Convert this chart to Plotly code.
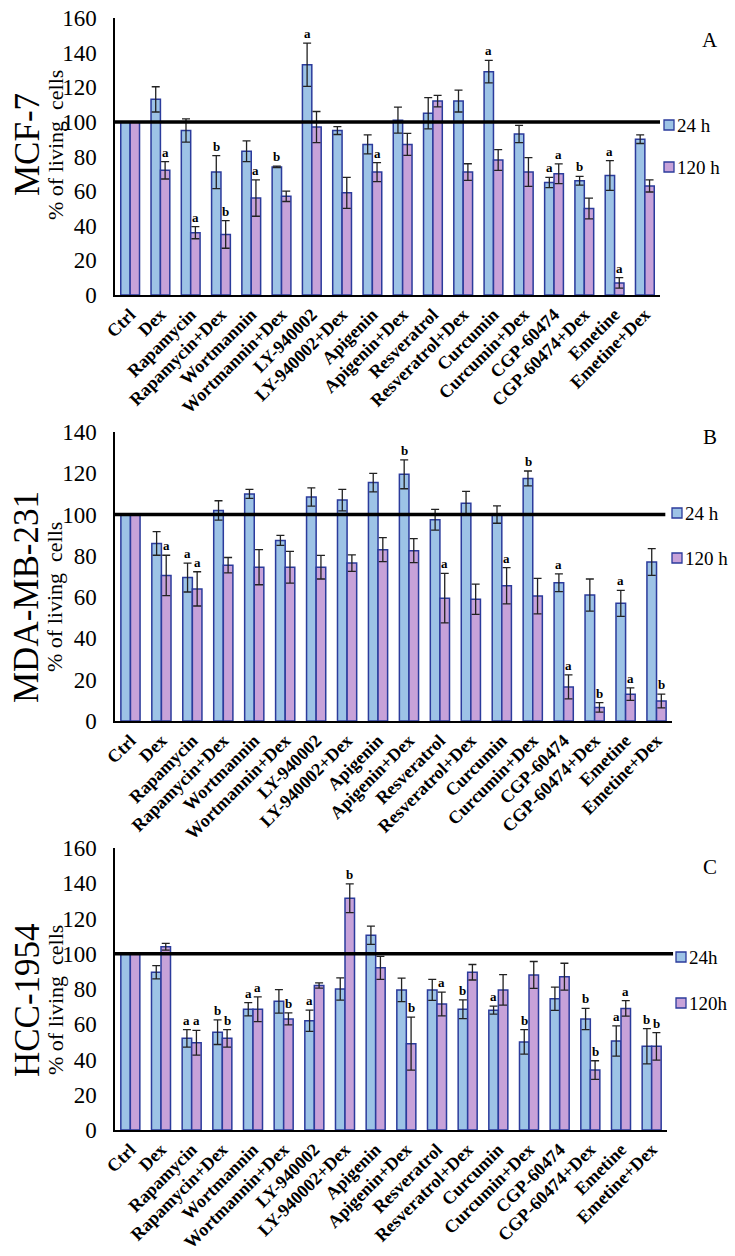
import plotly.graph_objects as go
from plotly.subplots import make_subplots

categories = ["Ctrl", "Dex", "Rapamycin", "Rapamycin+Dex", "Wortmannin", "Wortmannin+Dex",
              "LY-940002", "LY-940002+Dex", "Apigenin", "Apigenin+Dex", "Resveratrol",
              "Resveratrol+Dex", "Curcumin", "Curcumin+Dex", "CGP-60474", "CGP-60474+Dex",
              "Emetine", "Emetine+Dex"]

# Panel A: MCF-7
mcf7_24h = [100, 113, 95, 71, 83, 74, 133, 95, 87, 101, 105, 112, 129, 93, 65, 66, 69, 90]
mcf7_24h_err = [0, 7.3, 6.7, 9.5, 6, 0.4, 12.5, 2.3, 5.5, 7.5, 9, 6.3, 6.5, 5, 3, 2.5, 8.6, 2.5]
mcf7_120h = [100, 72, 36, 35, 56, 57, 97, 59, 71, 87, 112, 71, 78, 71, 70, 50, 7, 63]
mcf7_120h_err = [0, 5, 3.5, 8, 10.5, 3, 9, 9, 5.5, 6.3, 3.3, 4.8, 6, 8.3, 5.7, 6, 3, 3.5]
mcf7_sig24 = ["", "", "", "b", "", "b", "a", "", "", "", "", "", "a", "", "a", "b", "a", ""]
mcf7_sig120 = ["", "a", "a", "b", "a", "", "", "", "a", "", "", "", "", "", "a", "", "a", ""]

# Panel B: MDA-MB-231
mda_24h = [100, 86, 69.5, 102, 110, 87.5, 108.5, 107, 115.5, 119.5, 97.5, 105.5, 100, 117.5, 67, 61, 57, 77]
mda_24h_err = [0, 5.7, 7, 4.7, 2.2, 2.4, 4.4, 5.2, 4.5, 7, 5, 5.7, 4.2, 3.6, 4.3, 7.8, 6.3, 6.5]
mda_120h = [100, 70.5, 64, 75.5, 74.5, 74.5, 74.5, 76.5, 83, 82.5, 59.5, 59, 65.5, 60.5, 16.5, 6.6, 13, 9.7]
mda_120h_err = [0, 9.8, 8.3, 3.7, 8.5, 7.7, 5.7, 4, 5.8, 5.8, 12, 7.3, 8.8, 8.6, 5.8, 2.3, 3, 3.3]
mda_sig24 = ["", "", "a", "", "", "", "", "", "", "b", "", "", "", "b", "a", "", "a", ""]
mda_sig120 = ["", "a", "a", "", "", "", "", "", "", "", "a", "", "a", "", "a", "b", "a", "b"]

# Panel C: HCC-1954
hcc_24h = [100, 89.5, 52, 55.5, 68.5, 73, 62, 80, 110.5, 79.5, 79.5, 68.5, 68, 50, 74.5, 63, 50.5, 47.5]
hcc_24h_err = [0, 3.8, 5, 7, 3.8, 6.7, 6, 6.3, 5.2, 6.7, 6, 5.3, 2.3, 7, 6.6, 6, 8.6, 10]
hcc_120h = [100, 104, 49.5, 52, 68.5, 63, 82, 131.5, 92, 49, 71.5, 89.5, 79.5, 88, 87, 34, 69, 47.5]
hcc_120h_err = [0, 1.9, 7, 5, 7, 3.4, 1.5, 8.2, 6.5, 15, 6.7, 4.4, 8.6, 7.6, 7.6, 5.3, 4.4, 7.8]
hcc_sig24 = ["", "", "a", "b", "a", "", "a", "", "", "", "", "b", "a", "b", "", "b", "a", "b"]
hcc_sig120 = ["", "", "a", "b", "a", "b", "", "b", "", "b", "a", "", "", "", "", "b", "a", "b"]

panels = [
    dict(name="MCF-7", letter="A", v24=mcf7_24h, e24=mcf7_24h_err, v120=mcf7_120h, e120=mcf7_120h_err,
         s24=mcf7_sig24, s120=mcf7_sig120, ymax=160, lab24="24 h", lab120="120 h",
         top=18, bottom=295, right=660, line_end=1.0, leg=(669, 125, 167), letter_y=40, mid=145),
    dict(name="MDA-MB-231", letter="B", v24=mda_24h, e24=mda_24h_err, v120=mda_120h, e120=mda_120h_err,
         s24=mda_sig24, s120=mda_sig120, ymax=140, lab24="24 h", lab120="120 h",
         top=432, bottom=721, right=672, line_end=0.988, leg=(677, 513, 558), letter_y=437, mid=597),
    dict(name="HCC-1954", letter="C", v24=hcc_24h, e24=hcc_24h_err, v120=hcc_120h, e120=hcc_120h_err,
         s24=hcc_sig24, s120=hcc_sig120, ymax=160, lab24="24h", lab120="120h",
         top=848, bottom=1130, right=667, line_end=1.011, leg=(681, 957, 1003), letter_y=867, mid=1000),
]

W, H = 735, 1256
LEFT = 115
BLUE = "#9dc3e6"
PURPLE = "#c7a2d9"
EDGE = "#2b3b9c"
SERIF = "Liberation Serif"

fig = make_subplots(rows=3, cols=1)
annotations = []
shapes = []

for k, p in enumerate(panels):
    r = k + 1
    xa = "x" if k == 0 else f"x{k + 1}"
    ya = "y" if k == 0 else f"y{k + 1}"
    for vals, errs, col, lab in [(p["v24"], p["e24"], BLUE, p["lab24"]),
                                 (p["v120"], p["e120"], PURPLE, p["lab120"])]:
        fig.add_trace(go.Bar(
            x=categories, y=vals, name=lab, showlegend=False,
            marker=dict(color=col, line=dict(color=EDGE, width=1.5)),
            error_y=dict(type="data", array=errs, visible=True, color="#222222",
                         thickness=1.3, width=4),
        ), row=r, col=1)
    # significance letters
    for sig, vals, errs, shift in [(p["s24"], p["v24"], p["e24"], -4.7),
                                   (p["s120"], p["v120"], p["e120"], 4.7)]:
        for i, s in enumerate(sig):
            if s:
                annotations.append(dict(
                    x=categories[i], y=vals[i] + errs[i], xref=xa, yref=ya,
                    xshift=shift, yshift=0, yanchor="bottom", showarrow=False,
                    text=f"<b>{s}</b>", font=dict(family=SERIF, size=13, color="black")))
    # reference line at 100
    shapes.append(dict(type="line", xref=f"{xa} domain", yref=ya, x0=0, x1=p["line_end"],
                       y0=100, y1=100, line=dict(color="black", width=3.5), layer="above"))
    # domains
    fig.update_xaxes(domain=[LEFT / W, p["right"] / W], row=r, col=1)
    fig.update_yaxes(domain=[1 - p["bottom"] / H, 1 - p["top"] / H], row=r, col=1,
                     range=[0, p["ymax"]])
    mid = p["mid"]
    annotations.append(dict(x=27 / W, y=1 - mid / H, xref="paper", yref="paper",
                            xanchor="center", yanchor="middle",
                            text=p["name"], textangle=-90, showarrow=False,
                            font=dict(family=SERIF, size=35, color="black")))
    annotations.append(dict(x=55 / W, y=1 - mid / H, xref="paper", yref="paper",
                            xanchor="center", yanchor="middle",
                            text="% of living&nbsp;&nbsp;cells", textangle=-90, showarrow=False,
                            font=dict(family=SERIF, size=22, color="black")))
    annotations.append(dict(x=710 / W, y=1 - p["letter_y"] / H, xref="paper", yref="paper",
                            xanchor="center", yanchor="middle",
                            text=p["letter"], showarrow=False,
                            font=dict(family=SERIF, size=21, color="black")))
    # legend keys
    lx, ly1, ly2 = p["leg"]
    for yy, col, lab in [(ly1, BLUE, p["lab24"]), (ly2, PURPLE, p["lab120"])]:
        shapes.append(dict(type="rect", xref="paper", yref="paper",
                           x0=(lx - 5) / W, x1=(lx + 5) / W, y0=1 - (yy + 5) / H, y1=1 - (yy - 5) / H,
                           fillcolor=col, line=dict(color=EDGE, width=1.3)))
        annotations.append(dict(x=(lx + 6) / W, y=1 - yy / H, xref="paper", yref="paper",
                                xanchor="left", yanchor="middle", text=lab, showarrow=False,
                                font=dict(family=SERIF, size=19, color="black")))

fig.update_xaxes(showline=True, linecolor="black", linewidth=2, showgrid=False, ticks="",
                 tickangle=-45, tickfont=dict(family=SERIF, size=18, color="black", weight="bold"),
                 range=[-0.5, 17.5], automargin=False)
fig.update_yaxes(showline=True, linecolor="black", linewidth=1.5, showgrid=False, ticks="",
                 dtick=20, tickfont=dict(family=SERIF, size=23, color="black"),
                 ticklabelstandoff=12, zeroline=False, automargin=False)

fig.update_layout(width=W, height=H, margin=dict(l=0, r=0, t=0, b=0),
                  paper_bgcolor="white", plot_bgcolor="white",
                  barmode="group", bargap=0.38, bargroupgap=0,
                  annotations=annotations, shapes=shapes, showlegend=False)

fig.write_html("out.html", config={"displayModeBar": False},
               post_script="document.body.style.margin='0px';document.body.style.overflow='hidden';")
